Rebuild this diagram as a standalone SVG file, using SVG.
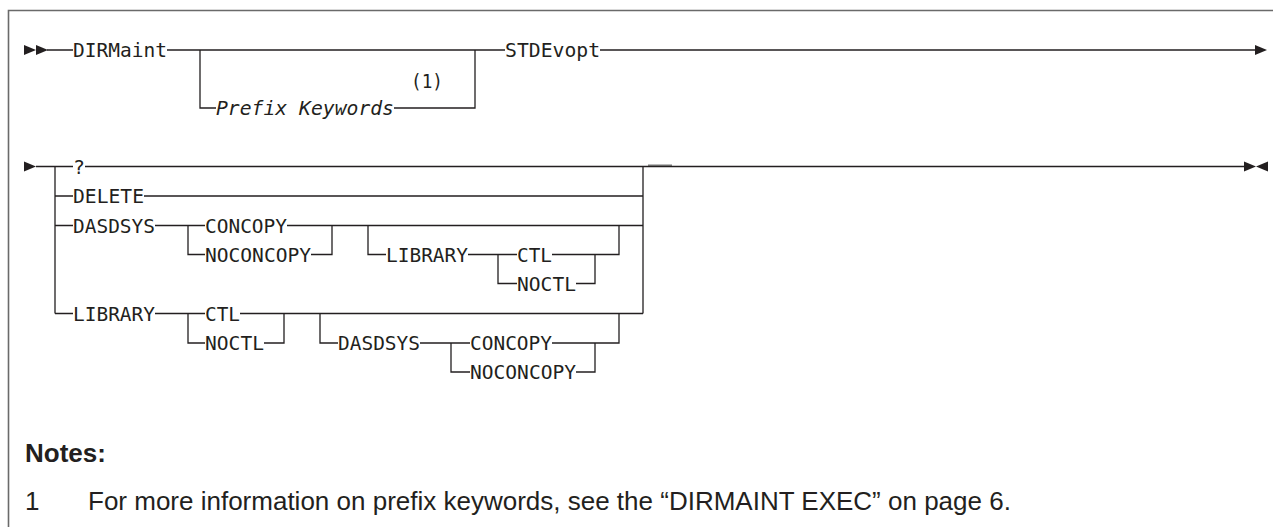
<svg xmlns="http://www.w3.org/2000/svg" xmlns:xlink="http://www.w3.org/1999/xlink" width="1273" height="527" viewBox="0 0 1273 527">
<style>
.t{font-family:"DejaVu Sans Mono","Liberation Mono",monospace;font-size:20px;fill:#231f20}
.i{font-style:italic}
.l{stroke:#231f20;stroke-width:1.3;fill:none}
.f{stroke:#6a6a6a;stroke-width:1.6;fill:none}
.n{font-family:"Liberation Sans",Arial,sans-serif;font-size:26px;fill:#231f20}
.b{font-weight:bold}
</style>
<defs>
<polygon id="ar" points="0,-5 12,0 0,5" fill="#231f20"/>
<polygon id="al" points="0,0 12,-5 12,5" fill="#231f20"/>
</defs>
<rect x="0" y="0" width="1273" height="527" fill="#fff"/>
<path class="f" d="M8.5,527 V10.5 H1273"/>
<g id="connectors">
<path class="l" d="M47,50 H73 M167,50 H505 M600,50 H1256 M200,50 V108 H216 M394,108 H475 V50"/>
<use href="#ar" x="24" y="50"/>
<use href="#ar" x="36" y="50"/>
<use href="#ar" x="1255" y="50"/>
<path class="l" d="M36,166.5 H73 M85,166.5 H1245 M55,166.5 V313.5 M55,196 H73 M55,225.5 H73 M55,313.5 H73 M144,196 H643 M643,166.5 V313.5"/>
<path class="l" d="M155,225.5 H205 M188,225.5 V254.5 H205 M311,254.5 H332 V225.5 M287,225.5 H643 M368,225.5 V254.5 H386 M468,254.5 H517 M498,254.5 V283.5 H517 M552,254.5 H595 M576,283.5 H595 V254.5 H619 V225.5"/>
<path class="l" d="M155,313.5 H205 M188,313.5 V343 H205 M240,313.5 H643 M264,343 H284 V313.5 M320,313.5 V343 H338 M420,343 H470 M451,343 V372 H470 M552,343 H595 M576,372 H595 V343 H619 V313.5"/>
<path d="M648,165.2 H672" stroke="#555" stroke-width="1.2"/>
<use href="#ar" x="24" y="166.5"/>
<use href="#ar" x="1244" y="166.5"/>
<use href="#al" x="1256" y="166.5"/>
</g>
<g id="n-dirmaint"><text class="t" x="73" y="57.3" textLength="94" lengthAdjust="spacingAndGlyphs">DIRMaint</text></g>
<g id="n-prefix"><text class="t i" x="216" y="115.3" textLength="178" lengthAdjust="spacingAndGlyphs">Prefix Keywords</text></g>
<g id="n-note1"><text class="t" x="411" y="88" textLength="32" lengthAdjust="spacingAndGlyphs">(1)</text></g>
<g id="n-stdevopt"><text class="t" x="505" y="57.3" textLength="95" lengthAdjust="spacingAndGlyphs">STDEvopt</text></g>
<g id="n-q"><text class="t" x="73" y="173.8" textLength="12" lengthAdjust="spacingAndGlyphs">?</text></g>
<g id="n-delete"><text class="t" x="73" y="203.3" textLength="71" lengthAdjust="spacingAndGlyphs">DELETE</text></g>
<g id="n-dasdsys1"><text class="t" x="73" y="232.8" textLength="82" lengthAdjust="spacingAndGlyphs">DASDSYS</text></g>
<g id="n-concopy1"><text class="t" x="205" y="232.8" textLength="82" lengthAdjust="spacingAndGlyphs">CONCOPY</text></g>
<g id="n-noconcopy1"><text class="t" x="205" y="261.8" textLength="106" lengthAdjust="spacingAndGlyphs">NOCONCOPY</text></g>
<g id="n-library1"><text class="t" x="386" y="261.8" textLength="82" lengthAdjust="spacingAndGlyphs">LIBRARY</text></g>
<g id="n-ctl1"><text class="t" x="517" y="261.8" textLength="35" lengthAdjust="spacingAndGlyphs">CTL</text></g>
<g id="n-noctl1"><text class="t" x="517" y="290.8" textLength="59" lengthAdjust="spacingAndGlyphs">NOCTL</text></g>
<g id="n-library2"><text class="t" x="73" y="320.8" textLength="82" lengthAdjust="spacingAndGlyphs">LIBRARY</text></g>
<g id="n-ctl2"><text class="t" x="205" y="320.8" textLength="35" lengthAdjust="spacingAndGlyphs">CTL</text></g>
<g id="n-noctl2"><text class="t" x="205" y="350.3" textLength="59" lengthAdjust="spacingAndGlyphs">NOCTL</text></g>
<g id="n-dasdsys2"><text class="t" x="338" y="350.3" textLength="82" lengthAdjust="spacingAndGlyphs">DASDSYS</text></g>
<g id="n-concopy2"><text class="t" x="470" y="350.3" textLength="82" lengthAdjust="spacingAndGlyphs">CONCOPY</text></g>
<g id="n-noconcopy2"><text class="t" x="470" y="379.3" textLength="106" lengthAdjust="spacingAndGlyphs">NOCONCOPY</text></g>
<g id="notes">
<text class="n b" x="25" y="462">Notes:</text>
<text class="n" x="25" y="510">1</text>
<text class="n" x="88" y="510">For more information on prefix keywords, see the “DIRMAINT EXEC” on page 6.</text>
</g>
</svg>
